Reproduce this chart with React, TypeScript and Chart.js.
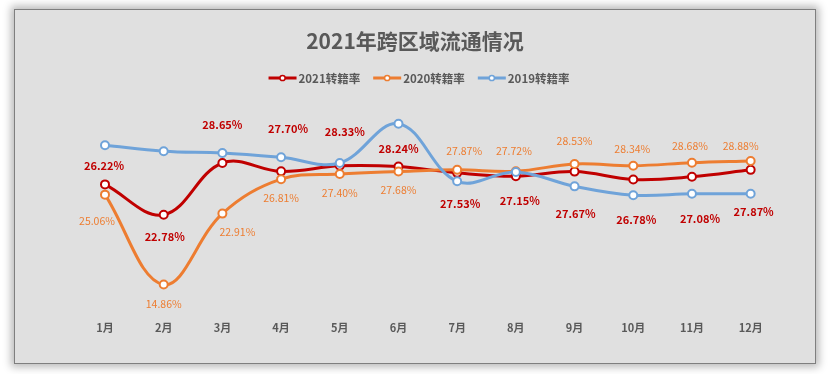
import React, { useEffect, useRef } from "react";
import { Chart, registerables } from "chart.js";

Chart.register(...registerables);

const chartTitle = "2021年跨区域流通情况";
const months = ["1月", "2月", "3月", "4月", "5月", "6月", "7月", "8月", "9月", "10月", "11月", "12月"];
const seriesNames = ["2021转籍率", "2020转籍率", "2019转籍率"];
const rate2021 = [26.22, 22.78, 28.65, 27.7, 28.33, 28.24, 27.53, 27.15, 27.67, 26.78, 27.08, 27.87];
const rate2020 = [25.06, 14.86, 22.91, 26.81, 27.4, 27.68, 27.87, 27.72, 28.53, 28.34, 28.68, 28.88];
const rate2019 = [30.67, 29.99, 29.79, 29.3, 28.65, 33.1, 26.57, 27.63, 26.0, 25.0, 25.16, 25.16];
const yMin = 12;
const yMax = 34;

// label offsets (dx, dy) relative to each point, in px
const labelOffsets2021 = [[-1, -19], [1, 22], [0, -38], [7, -43], [5, -34], [0, -18], [3, 31], [4, 25], [1, 42], [3, 40], [8, 42], [3, 42]];
const labelOffsets2020 = [[-8, 26], [0, 19], [15, 18], [0, 19], [0, 19], [0, 18], [7, -19], [-2, -20], [0, -23], [-1, -17], [-2, -17], [-10, -15]];

const colors = ["#C00000", "#ED7D31", "#6FA3D9"];
const FONT = '"Noto Sans CJK SC", "Noto Sans", sans-serif';
const TEXT_GRAY = "#595959";

const labelCfg: any[] = [
  { offsets: labelOffsets2021, color: "#C00000", font: `bold 11px ${FONT}` },
  { offsets: labelOffsets2020, color: "#ED7D31", font: `10.5px ${FONT}` },
  null,
];

const overlayPlugin = {
  id: "overlay",
  afterDatasetsDraw(chart: any) {
    const ctx = chart.ctx;
    chart.data.datasets.forEach((ds: any, i: number) => {
      const cfg = labelCfg[i];
      if (!cfg) return;
      const meta = chart.getDatasetMeta(i);
      meta.data.forEach((pt: any, j: number) => {
        const [dx, dy] = cfg.offsets[j];
        ctx.save();
        ctx.font = cfg.font;
        ctx.fillStyle = cfg.color;
        ctx.textAlign = "center";
        ctx.textBaseline = "middle";
        ctx.fillText(ds.data[j].toFixed(2) + "%", pt.x + dx, pt.y + dy);
        ctx.restore();
      });
    });
  },
  afterDraw(chart: any) {
    const ctx = chart.ctx;
    ctx.save();
    // title
    ctx.font = `bold 21px ${FONT}`;
    ctx.fillStyle = TEXT_GRAY;
    ctx.textAlign = "center";
    ctx.textBaseline = "middle";
    ctx.fillText(chartTitle, 415, 41);
    // legend
    ctx.font = `bold 11.5px ${FONT}`;
    const lineW = 28;
    const gapText = 2;
    const gapItem = 13;
    const widths = seriesNames.map((n) => ctx.measureText(n).width);
    const total = widths.reduce((a, w) => a + lineW + gapText + w, 0) + gapItem * (seriesNames.length - 1);
    let x = 419 - total / 2;
    const y = 78;
    seriesNames.forEach((name, i) => {
      ctx.strokeStyle = colors[i];
      ctx.lineWidth = 3;
      ctx.beginPath();
      ctx.moveTo(x, y);
      ctx.lineTo(x + lineW, y);
      ctx.stroke();
      ctx.beginPath();
      ctx.arc(x + lineW / 2, y, 2.6, 0, Math.PI * 2);
      ctx.fillStyle = "#ffffff";
      ctx.fill();
      ctx.lineWidth = 1.5;
      ctx.stroke();
      ctx.fillStyle = TEXT_GRAY;
      ctx.textAlign = "left";
      ctx.fillText(name, x + lineW + gapText, y + 0.5);
      x += lineW + gapText + widths[i] + gapItem;
    });
    ctx.restore();
  },
};

export default function App() {
  const ref = useRef<HTMLCanvasElement | null>(null);
  useEffect(() => {
    if (!ref.current) return;
    const mk = (i: number, data: number[], order: number) => ({
      label: seriesNames[i],
      data,
      borderColor: colors[i],
      backgroundColor: "#ffffff",
      borderWidth: 3,
      pointRadius: 4,
      pointBorderWidth: 2,
      pointBackgroundColor: "#ffffff",
      pointBorderColor: colors[i],
      tension: 0.38,
      order,
    });
    const chart = new Chart(ref.current, {
      type: "line",
      data: {
        labels: months,
        datasets: [mk(0, rate2021, 3), mk(1, rate2020, 2), mk(2, rate2019, 1)],
      },
      options: {
        responsive: false,
        animation: false,
        devicePixelRatio: 1,
        layout: { padding: { left: 75.65, right: 50, top: 115.8, bottom: 29 } },
        plugins: {
          legend: { display: false },
          title: { display: false },
          tooltip: { enabled: false },
        },
        scales: {
          x: {
            offset: true,
            grid: { display: false, drawTicks: false },
            border: { display: false },
            ticks: {
              color: TEXT_GRAY,
              padding: 11,
              font: { family: FONT, size: 11, weight: "bold" },
            },
          },
          y: { display: false, min: yMin, max: yMax },
        },
      },
      plugins: [overlayPlugin],
    });
    return () => chart.destroy();
  }, []);
  return (
    <div style={{ position: "fixed", left: 0, top: 0, width: 830, height: 374, background: "#ffffff", overflow: "hidden" }}>
      <div
        style={{
          position: "absolute",
          left: 14,
          top: 9,
          width: 802,
          height: 355,
          boxSizing: "border-box",
          border: "1.5px solid #7f7f7f",
          background: "#e0e0e0",
          boxShadow: "0 0 8px 3px rgba(0,0,0,0.28)",
        }}
      />
      <canvas ref={ref} width={830} height={374} style={{ position: "absolute", left: 0, top: 0, width: 830, height: 374 }} />
    </div>
  );
}
